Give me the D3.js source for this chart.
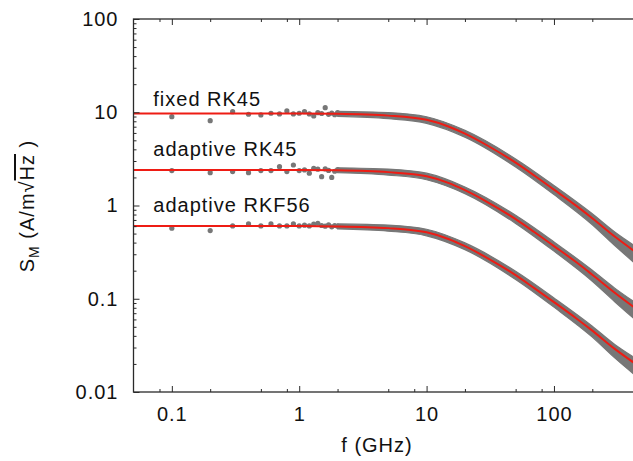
<!DOCTYPE html>
<html>
<head>
<meta charset="utf-8">
<script src="https://cdn.jsdelivr.net/npm/d3@7"></script>
<style>
  html, body { margin: 0; padding: 0; background: #fff; }
  svg { display: block; }
</style>
</head>
<body>
<div class="chartContainer"></div>
<script>
// series names, in the same order as the value arrays below
var seriesNames = ["fixed RK45", "adaptive RK45", "adaptive RKF56"];

// red fit curves (GHz -> A/m/sqrt(Hz))
var fitFreq = [0.05, 1, 2, 5, 10, 15, 20, 30, 50, 70, 100, 150, 200, 300, 420];
var fitFixedRK45 = [9.72, 9.70, 9.62, 9.2, 8.3, 7.0, 5.9, 4.4, 2.88, 2.1, 1.48, 0.99, 0.73, 0.465, 0.33];
var fitAdaptiveRK45 = [2.41, 2.41, 2.39, 2.28, 2.06, 1.74, 1.46, 1.09, 0.715, 0.52, 0.367, 0.246, 0.181, 0.116, 0.082];
var fitAdaptiveRKF56 = [0.603, 0.602, 0.597, 0.572, 0.516, 0.435, 0.366, 0.273, 0.179, 0.13, 0.092, 0.0615, 0.0455, 0.029, 0.0208];

// single simulated points at the low end (0.1 GHz steps)
var dotFreq = [0.1, 0.2, 0.3, 0.4, 0.5, 0.6, 0.7, 0.8, 0.9, 1.0, 1.1, 1.2, 1.3, 1.4, 1.5, 1.6, 1.7, 1.8, 1.9, 2.0];
var dotsFixedRK45 = [8.97, 8.13, 10.15, 9.52, 9.35, 9.76, 9.59, 10.33, 9.59, 9.76, 10.15, 9.59, 9.13, 9.9, 9.7, 11.2, 9.5, 9.8, 9.4, 9.9];
var dotsAdaptiveRK45 = [2.37, 2.25, 2.31, 2.25, 2.37, 2.37, 2.61, 2.31, 2.72, 2.37, 2.41, 2.22, 2.51, 2.45, 2.04, 2.47, 2.38, 2.0, 2.33, 2.42];
var dotsAdaptiveRKF56 = [0.571, 0.538, 0.604, 0.635, 0.604, 0.635, 0.604, 0.604, 0.635, 0.604, 0.615, 0.604, 0.63, 0.645, 0.61, 0.6, 0.62, 0.59, 0.61, 0.6];

// dense part of the data: upper and lower edge of the grey band
var bandFreq = [2, 5, 10, 20, 50, 100, 200, 300, 420];
var bandFixedRK45Hi = [10.23, 9.91, 8.94, 6.40, 3.16, 1.64, 0.816, 0.520, 0.378];
var bandFixedRK45Lo = [9.04, 8.54, 7.61, 5.41, 2.59, 1.31, 0.622, 0.372, 0.248];
var bandAdaptiveRK45Hi = [2.54, 2.46, 2.22, 1.58, 0.785, 0.407, 0.202, 0.130, 0.094];
var bandAdaptiveRK45Lo = [2.25, 2.12, 1.89, 1.34, 0.643, 0.324, 0.154, 0.093, 0.062];
var bandAdaptiveRKF56Hi = [0.635, 0.616, 0.556, 0.397, 0.197, 0.102, 0.0508, 0.0324, 0.0238];
var bandAdaptiveRKF56Lo = [0.561, 0.531, 0.473, 0.336, 0.161, 0.0813, 0.0388, 0.0232, 0.0157];

// where the series names sit (GHz, A/m/sqrt(Hz))
var labelFreq = 0.0715;
var labelValues = [11.7, 3.40, 0.86];

// axis ticks
var xMajor = [0.1, 1, 10, 100];
var xMinor = [0.08, 0.2, 0.5, 0.8, 2, 5, 8, 20, 50, 80, 200];
var yMajor = [0.01, 0.1, 1, 10, 100];
var yMinor = [];
[0.01, 0.1, 1, 10].forEach(function (d) {
  for (var k = 2; k <= 9; k++) yMinor.push(+(d * k).toPrecision(3));
});

var width = 633,
    height = 461,
    plotLeft = 133.5,
    plotRight = 643,
    plotTop = 19,
    plotBottom = 392;

var fits = [fitFixedRK45, fitAdaptiveRK45, fitAdaptiveRKF56];
var dots = [dotsFixedRK45, dotsAdaptiveRK45, dotsAdaptiveRKF56];
var bands = [
  [bandFixedRK45Hi, bandFixedRK45Lo],
  [bandAdaptiveRK45Hi, bandAdaptiveRK45Lo],
  [bandAdaptiveRKF56Hi, bandAdaptiveRKF56Lo]
];

var x = d3.scaleLog().domain([0.05, 500]).range([plotLeft, plotRight]);
var y = d3.scaleLog().domain([0.01, 100]).range([plotBottom, plotTop]);

var svg = d3.select(".chartContainer")
  .append("svg")
  .attr("width", width)
  .attr("height", height)
  .style("font-family", "'Liberation Sans', Arial, Helvetica, sans-serif");

svg.append("clipPath").attr("id", "plotClip")
  .append("rect")
  .attr("x", plotLeft).attr("y", plotTop)
  .attr("width", plotRight - plotLeft).attr("height", plotBottom - plotTop);

var plot = svg.append("g").attr("clip-path", "url(#plotClip)");

var grey = "#777777",
    red = "#ee1c14",
    axisColor = "#2a2a2a";

// grey bands (dense data)
var area = d3.area()
  .x(function (d) { return x(d.f); })
  .y0(function (d) { return y(d.lo); })
  .y1(function (d) { return y(d.hi); })
  .curve(d3.curveMonotoneX);

bands.forEach(function (b) {
  var rows = bandFreq.map(function (f, i) { return { f: f, hi: b[0][i], lo: b[1][i] }; });
  plot.append("path")
    .datum(rows)
    .attr("d", area)
    .attr("fill", grey)
    .attr("stroke", grey)
    .attr("stroke-width", 1.2)
    .attr("stroke-linejoin", "round");
});

// single points
dots.forEach(function (vals) {
  plot.selectAll(null)
    .data(dotFreq.map(function (f, i) { return { f: f, v: vals[i] }; }))
    .enter()
    .append("circle")
    .attr("cx", function (d) { return x(d.f); })
    .attr("cy", function (d) { return y(d.v); })
    .attr("r", 2.6)
    .attr("fill", grey);
});

// fit lines
var line = d3.line()
  .x(function (d) { return x(d.f); })
  .y(function (d) { return y(d.v); })
  .curve(d3.curveMonotoneX);

fits.forEach(function (vals) {
  plot.append("path")
    .datum(fitFreq.map(function (f, i) { return { f: f, v: vals[i] }; }))
    .attr("d", line)
    .attr("fill", "none")
    .attr("stroke", red)
    .attr("stroke-width", 2);
});

// series names
svg.selectAll(".seriesLabel")
  .data(seriesNames)
  .enter()
  .append("text")
  .attr("class", "seriesLabel")
  .attr("x", x(labelFreq))
  .attr("y", function (d, i) { return y(labelValues[i]); })
  .attr("font-size", 20)
  .attr("letter-spacing", 1)
  .attr("fill", "#111")
  .text(function (d) { return d; });

// axes: ticks point inward, like the original
function styleAxis(g) {
  g.select(".domain").remove();
  g.selectAll("line").attr("stroke", axisColor).attr("stroke-width", 1);
  g.selectAll("text")
    .attr("font-size", 20)
    .attr("letter-spacing", 1)
    .attr("fill", "#111")
    .style("font-family", "'Liberation Sans', Arial, Helvetica, sans-serif");
}

var fmt = function (d) { return d3.format("~g")(d); };

svg.append("g")
  .attr("transform", "translate(0," + plotBottom + ")")
  .call(d3.axisBottom(x).tickValues(xMajor).tickFormat(fmt).tickSize(-6).tickSizeOuter(0).tickPadding(15))
  .call(styleAxis);
svg.append("g")
  .attr("transform", "translate(0," + plotBottom + ")")
  .call(d3.axisBottom(x).tickValues(xMinor).tickFormat("").tickSize(-3).tickSizeOuter(0))
  .call(styleAxis);
svg.append("g")
  .attr("transform", "translate(0," + plotTop + ")")
  .call(d3.axisTop(x).tickValues(xMajor).tickFormat("").tickSize(-6).tickSizeOuter(0))
  .call(styleAxis);
svg.append("g")
  .attr("transform", "translate(0," + plotTop + ")")
  .call(d3.axisTop(x).tickValues(xMinor).tickFormat("").tickSize(-3).tickSizeOuter(0))
  .call(styleAxis);

svg.append("g")
  .attr("transform", "translate(" + plotLeft + ",0)")
  .call(d3.axisLeft(y).tickValues(yMajor).tickFormat(fmt).tickSize(-6).tickSizeOuter(0).tickPadding(15))
  .call(styleAxis);
svg.append("g")
  .attr("transform", "translate(" + plotLeft + ",0)")
  .call(d3.axisLeft(y).tickValues(yMinor).tickFormat("").tickSize(-3).tickSizeOuter(0))
  .call(styleAxis);

// frame
svg.append("rect")
  .attr("x", plotLeft)
  .attr("y", plotTop)
  .attr("width", plotRight - plotLeft)
  .attr("height", plotBottom - plotTop)
  .attr("fill", "none")
  .attr("stroke", axisColor)
  .attr("stroke-width", 1.3);

// axis titles
svg.append("text")
  .attr("x", 377)
  .attr("y", 452)
  .attr("text-anchor", "middle")
  .attr("font-size", 20)
  .attr("letter-spacing", 1)
  .attr("fill", "#111")
  .text("f (GHz)");

var yTitle = svg.append("text")
  .attr("transform", "translate(34,206) rotate(-90)")
  .attr("text-anchor", "middle")
  .attr("font-size", 20)
  .attr("letter-spacing", 1)
  .attr("fill", "#111");
yTitle.append("tspan").text("S");
yTitle.append("tspan").attr("font-size", 14).attr("dy", 5).text("M");
yTitle.append("tspan").attr("dy", -5).text(" (A/m\u221A");
yTitle.append("tspan").style("text-decoration", "overline").text("Hz");
yTitle.append("tspan").text(" )");
</script>
</body>
</html>
